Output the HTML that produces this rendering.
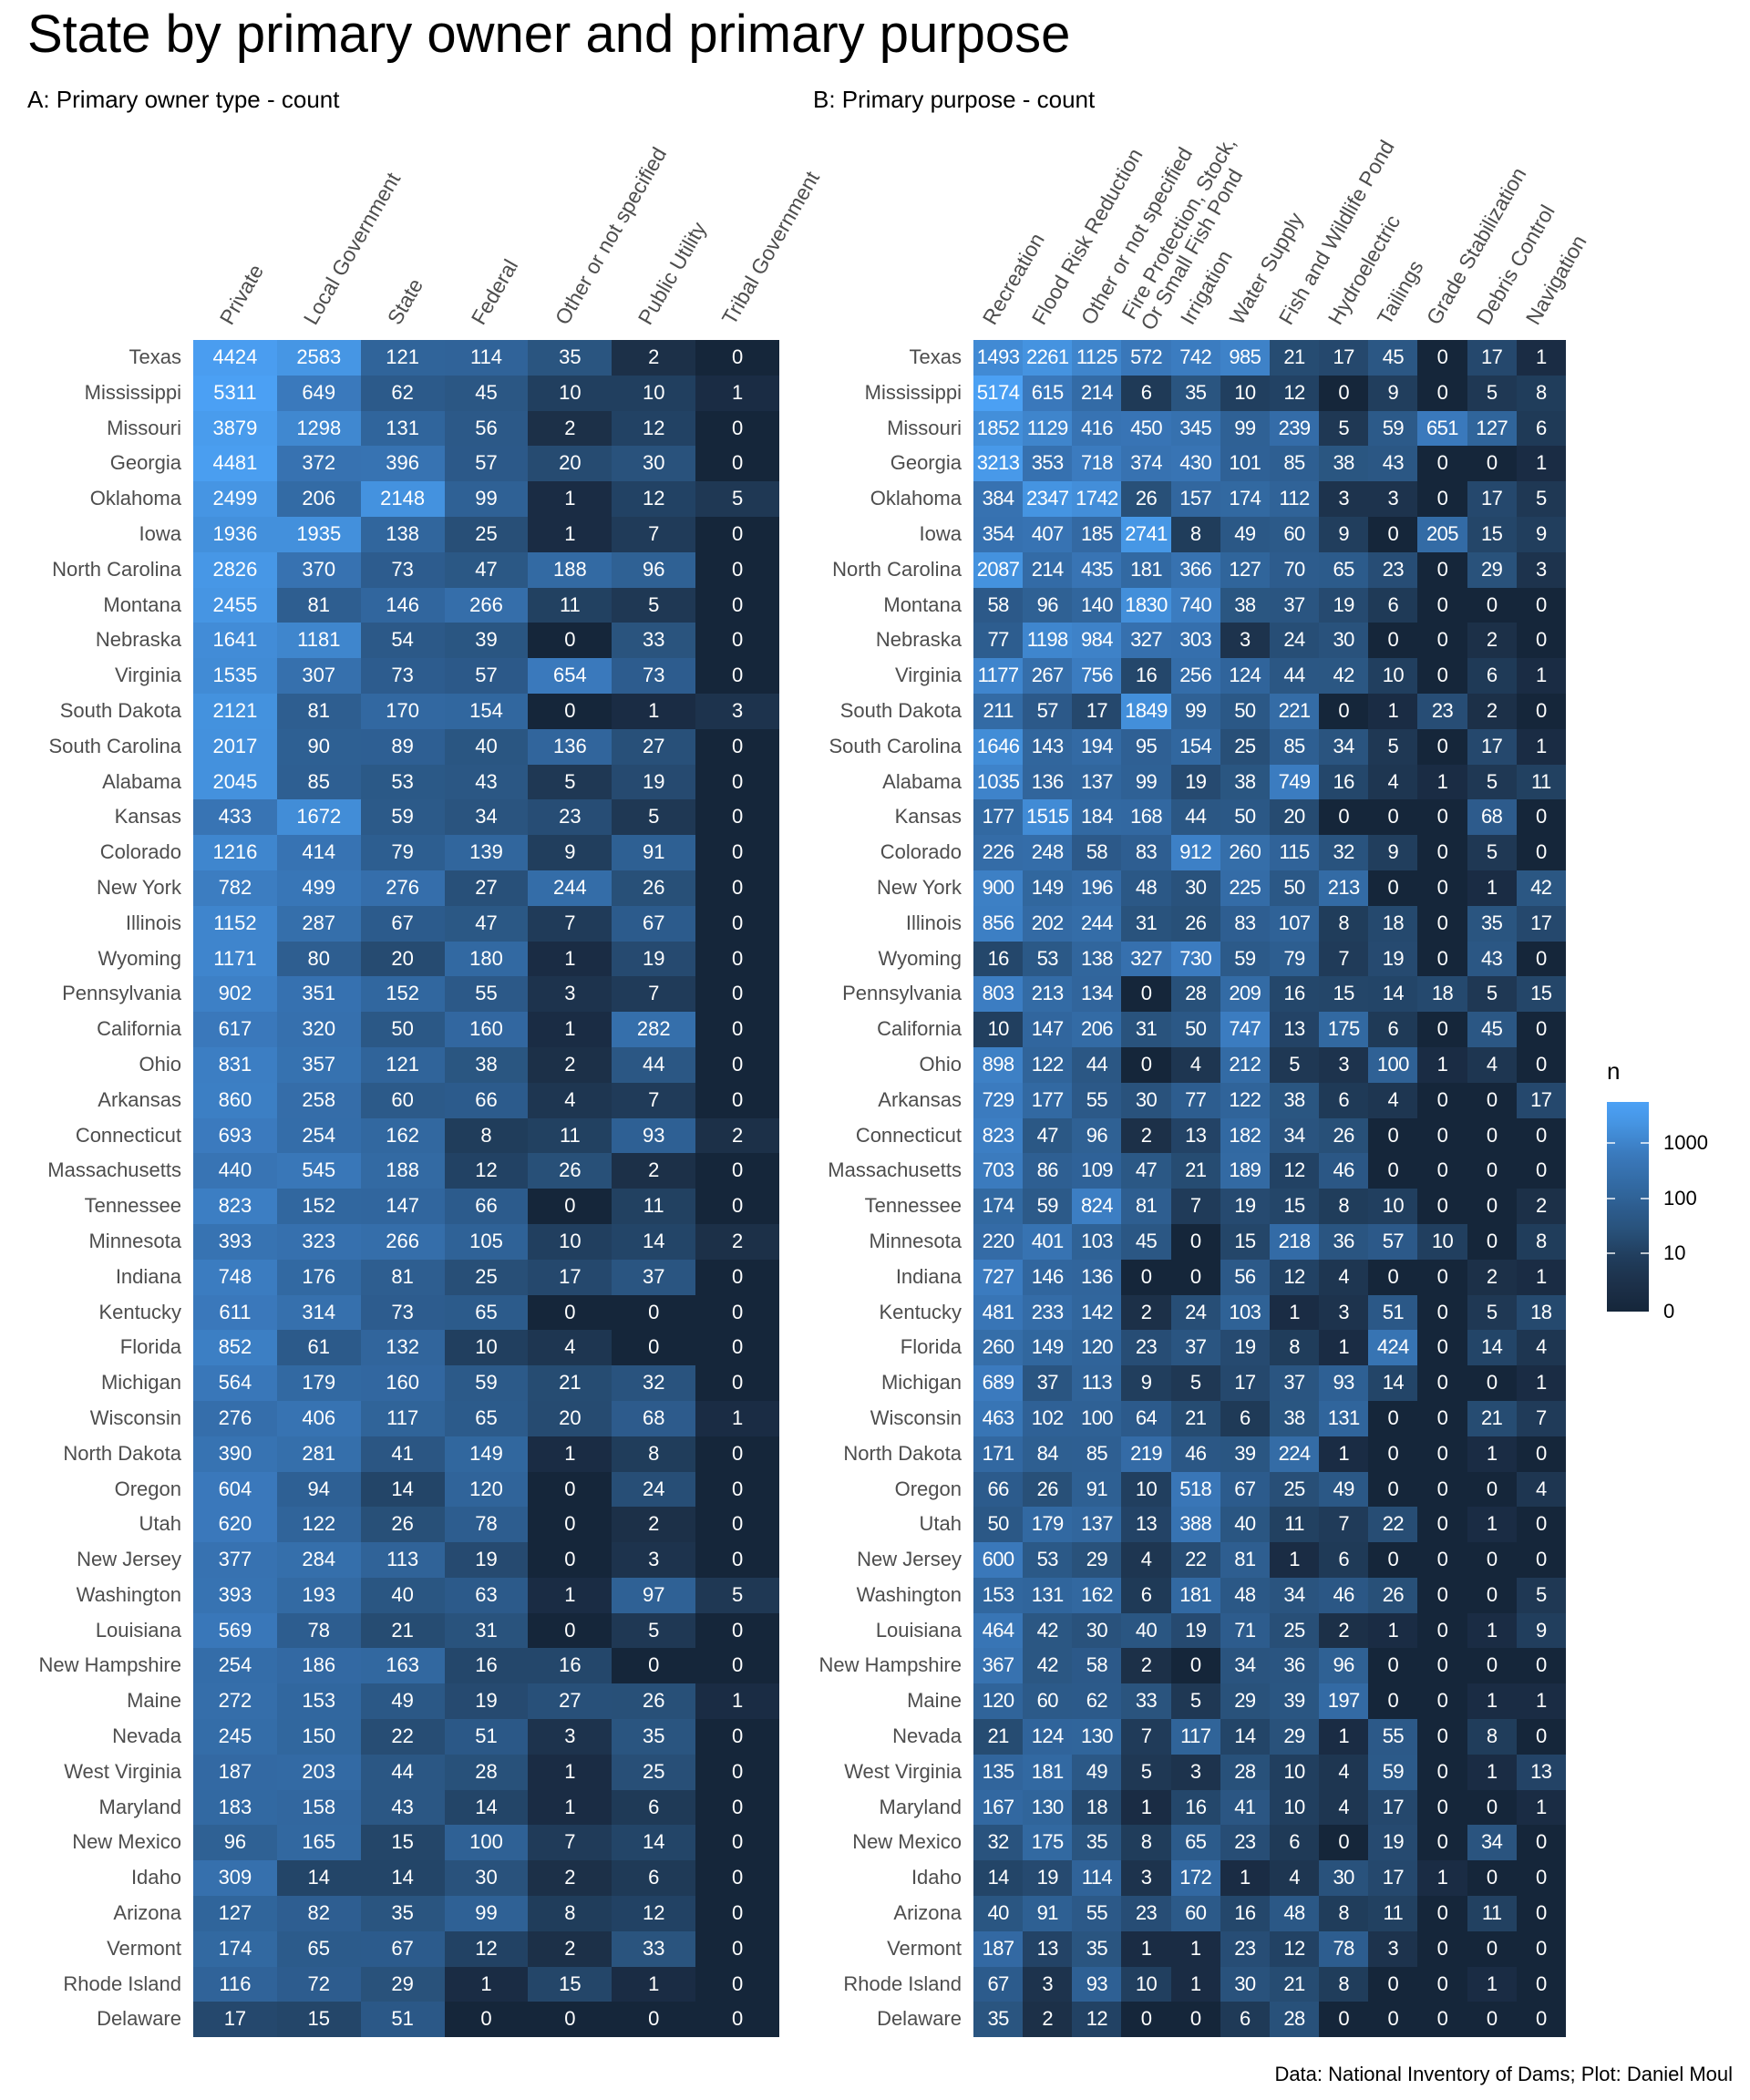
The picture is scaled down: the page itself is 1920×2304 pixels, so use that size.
<!DOCTYPE html>
<html><head><meta charset="utf-8">
<style>
html,body{margin:0;padding:0;background:#fff;}
body{width:1920px;height:2304px;position:relative;overflow:hidden;font-family:"Liberation Sans",Arial,sans-serif;}
.t{position:absolute;white-space:nowrap;}
.g{position:absolute;display:grid;grid-auto-rows:38.8px;}
.g b{font-weight:normal;color:#4d4d4d;font-size:22px;text-align:right;padding-right:13px;line-height:38.8px;white-space:nowrap;}
.g i{font-style:normal;color:#fff;font-size:22px;text-align:center;line-height:38.8px;background:#132B43;}
#A{left:0;top:373px;grid-template-columns:212px repeat(7,91.86px);}
#B{left:860px;top:373px;grid-template-columns:208px repeat(12,54.17px);}
#B i{letter-spacing:-0.6px;}
.cl{position:absolute;font-size:23px;color:#4d4d4d;white-space:pre;line-height:24px;transform-origin:0 50%;transform:translate(0,-50%) rotate(-60deg);}
</style></head><body>
<div class="t" style="left:30px;top:4px;font-size:58px;color:#000;">State by primary owner and primary purpose</div>
<div class="t" style="left:30px;top:94px;font-size:26px;color:#000;">A: Primary owner type - count</div>
<div class="t" style="left:892px;top:94px;font-size:26px;color:#000;">B: Primary purpose - count</div>

<div class="cl" style="left:247px;top:354px;">Private</div>
<div class="cl" style="left:339px;top:354px;">Local Government</div>
<div class="cl" style="left:431px;top:354px;">State</div>
<div class="cl" style="left:523px;top:354px;">Federal</div>
<div class="cl" style="left:615px;top:354px;">Other or not specified</div>
<div class="cl" style="left:706px;top:354px;">Public Utility</div>
<div class="cl" style="left:798px;top:354px;">Tribal Government</div>

<div class="cl" style="left:1084px;top:354px;">Recreation</div>
<div class="cl" style="left:1138px;top:354px;">Flood Risk Reduction</div>
<div class="cl" style="left:1192px;top:354px;">Other or not specified</div>
<div class="cl" style="left:1247px;top:354px;">Fire Protection, Stock,
Or Small Fish Pond</div>
<div class="cl" style="left:1301px;top:354px;">Irrigation</div>
<div class="cl" style="left:1355px;top:354px;">Water Supply</div>
<div class="cl" style="left:1409px;top:354px;">Fish and Wildlife Pond</div>
<div class="cl" style="left:1463px;top:354px;">Hydroelectric</div>
<div class="cl" style="left:1517px;top:354px;">Tailings</div>
<div class="cl" style="left:1571px;top:354px;">Grade Stabilization</div>
<div class="cl" style="left:1626px;top:354px;">Debris Control</div>
<div class="cl" style="left:1680px;top:354px;">Navigation</div>

<div class="g" id="A">
<b>Texas</b><i>4424</i><i>2583</i><i>121</i><i>114</i><i>35</i><i>2</i><i>0</i>
<b>Mississippi</b><i>5311</i><i>649</i><i>62</i><i>45</i><i>10</i><i>10</i><i>1</i>
<b>Missouri</b><i>3879</i><i>1298</i><i>131</i><i>56</i><i>2</i><i>12</i><i>0</i>
<b>Georgia</b><i>4481</i><i>372</i><i>396</i><i>57</i><i>20</i><i>30</i><i>0</i>
<b>Oklahoma</b><i>2499</i><i>206</i><i>2148</i><i>99</i><i>1</i><i>12</i><i>5</i>
<b>Iowa</b><i>1936</i><i>1935</i><i>138</i><i>25</i><i>1</i><i>7</i><i>0</i>
<b>North Carolina</b><i>2826</i><i>370</i><i>73</i><i>47</i><i>188</i><i>96</i><i>0</i>
<b>Montana</b><i>2455</i><i>81</i><i>146</i><i>266</i><i>11</i><i>5</i><i>0</i>
<b>Nebraska</b><i>1641</i><i>1181</i><i>54</i><i>39</i><i>0</i><i>33</i><i>0</i>
<b>Virginia</b><i>1535</i><i>307</i><i>73</i><i>57</i><i>654</i><i>73</i><i>0</i>
<b>South Dakota</b><i>2121</i><i>81</i><i>170</i><i>154</i><i>0</i><i>1</i><i>3</i>
<b>South Carolina</b><i>2017</i><i>90</i><i>89</i><i>40</i><i>136</i><i>27</i><i>0</i>
<b>Alabama</b><i>2045</i><i>85</i><i>53</i><i>43</i><i>5</i><i>19</i><i>0</i>
<b>Kansas</b><i>433</i><i>1672</i><i>59</i><i>34</i><i>23</i><i>5</i><i>0</i>
<b>Colorado</b><i>1216</i><i>414</i><i>79</i><i>139</i><i>9</i><i>91</i><i>0</i>
<b>New York</b><i>782</i><i>499</i><i>276</i><i>27</i><i>244</i><i>26</i><i>0</i>
<b>Illinois</b><i>1152</i><i>287</i><i>67</i><i>47</i><i>7</i><i>67</i><i>0</i>
<b>Wyoming</b><i>1171</i><i>80</i><i>20</i><i>180</i><i>1</i><i>19</i><i>0</i>
<b>Pennsylvania</b><i>902</i><i>351</i><i>152</i><i>55</i><i>3</i><i>7</i><i>0</i>
<b>California</b><i>617</i><i>320</i><i>50</i><i>160</i><i>1</i><i>282</i><i>0</i>
<b>Ohio</b><i>831</i><i>357</i><i>121</i><i>38</i><i>2</i><i>44</i><i>0</i>
<b>Arkansas</b><i>860</i><i>258</i><i>60</i><i>66</i><i>4</i><i>7</i><i>0</i>
<b>Connecticut</b><i>693</i><i>254</i><i>162</i><i>8</i><i>11</i><i>93</i><i>2</i>
<b>Massachusetts</b><i>440</i><i>545</i><i>188</i><i>12</i><i>26</i><i>2</i><i>0</i>
<b>Tennessee</b><i>823</i><i>152</i><i>147</i><i>66</i><i>0</i><i>11</i><i>0</i>
<b>Minnesota</b><i>393</i><i>323</i><i>266</i><i>105</i><i>10</i><i>14</i><i>2</i>
<b>Indiana</b><i>748</i><i>176</i><i>81</i><i>25</i><i>17</i><i>37</i><i>0</i>
<b>Kentucky</b><i>611</i><i>314</i><i>73</i><i>65</i><i>0</i><i>0</i><i>0</i>
<b>Florida</b><i>852</i><i>61</i><i>132</i><i>10</i><i>4</i><i>0</i><i>0</i>
<b>Michigan</b><i>564</i><i>179</i><i>160</i><i>59</i><i>21</i><i>32</i><i>0</i>
<b>Wisconsin</b><i>276</i><i>406</i><i>117</i><i>65</i><i>20</i><i>68</i><i>1</i>
<b>North Dakota</b><i>390</i><i>281</i><i>41</i><i>149</i><i>1</i><i>8</i><i>0</i>
<b>Oregon</b><i>604</i><i>94</i><i>14</i><i>120</i><i>0</i><i>24</i><i>0</i>
<b>Utah</b><i>620</i><i>122</i><i>26</i><i>78</i><i>0</i><i>2</i><i>0</i>
<b>New Jersey</b><i>377</i><i>284</i><i>113</i><i>19</i><i>0</i><i>3</i><i>0</i>
<b>Washington</b><i>393</i><i>193</i><i>40</i><i>63</i><i>1</i><i>97</i><i>5</i>
<b>Louisiana</b><i>569</i><i>78</i><i>21</i><i>31</i><i>0</i><i>5</i><i>0</i>
<b>New Hampshire</b><i>254</i><i>186</i><i>163</i><i>16</i><i>16</i><i>0</i><i>0</i>
<b>Maine</b><i>272</i><i>153</i><i>49</i><i>19</i><i>27</i><i>26</i><i>1</i>
<b>Nevada</b><i>245</i><i>150</i><i>22</i><i>51</i><i>3</i><i>35</i><i>0</i>
<b>West Virginia</b><i>187</i><i>203</i><i>44</i><i>28</i><i>1</i><i>25</i><i>0</i>
<b>Maryland</b><i>183</i><i>158</i><i>43</i><i>14</i><i>1</i><i>6</i><i>0</i>
<b>New Mexico</b><i>96</i><i>165</i><i>15</i><i>100</i><i>7</i><i>14</i><i>0</i>
<b>Idaho</b><i>309</i><i>14</i><i>14</i><i>30</i><i>2</i><i>6</i><i>0</i>
<b>Arizona</b><i>127</i><i>82</i><i>35</i><i>99</i><i>8</i><i>12</i><i>0</i>
<b>Vermont</b><i>174</i><i>65</i><i>67</i><i>12</i><i>2</i><i>33</i><i>0</i>
<b>Rhode Island</b><i>116</i><i>72</i><i>29</i><i>1</i><i>15</i><i>1</i><i>0</i>
<b>Delaware</b><i>17</i><i>15</i><i>51</i><i>0</i><i>0</i><i>0</i><i>0</i>
</div>

<div class="g" id="B">
<b>Texas</b><i>1493</i><i>2261</i><i>1125</i><i>572</i><i>742</i><i>985</i><i>21</i><i>17</i><i>45</i><i>0</i><i>17</i><i>1</i>
<b>Mississippi</b><i>5174</i><i>615</i><i>214</i><i>6</i><i>35</i><i>10</i><i>12</i><i>0</i><i>9</i><i>0</i><i>5</i><i>8</i>
<b>Missouri</b><i>1852</i><i>1129</i><i>416</i><i>450</i><i>345</i><i>99</i><i>239</i><i>5</i><i>59</i><i>651</i><i>127</i><i>6</i>
<b>Georgia</b><i>3213</i><i>353</i><i>718</i><i>374</i><i>430</i><i>101</i><i>85</i><i>38</i><i>43</i><i>0</i><i>0</i><i>1</i>
<b>Oklahoma</b><i>384</i><i>2347</i><i>1742</i><i>26</i><i>157</i><i>174</i><i>112</i><i>3</i><i>3</i><i>0</i><i>17</i><i>5</i>
<b>Iowa</b><i>354</i><i>407</i><i>185</i><i>2741</i><i>8</i><i>49</i><i>60</i><i>9</i><i>0</i><i>205</i><i>15</i><i>9</i>
<b>North Carolina</b><i>2087</i><i>214</i><i>435</i><i>181</i><i>366</i><i>127</i><i>70</i><i>65</i><i>23</i><i>0</i><i>29</i><i>3</i>
<b>Montana</b><i>58</i><i>96</i><i>140</i><i>1830</i><i>740</i><i>38</i><i>37</i><i>19</i><i>6</i><i>0</i><i>0</i><i>0</i>
<b>Nebraska</b><i>77</i><i>1198</i><i>984</i><i>327</i><i>303</i><i>3</i><i>24</i><i>30</i><i>0</i><i>0</i><i>2</i><i>0</i>
<b>Virginia</b><i>1177</i><i>267</i><i>756</i><i>16</i><i>256</i><i>124</i><i>44</i><i>42</i><i>10</i><i>0</i><i>6</i><i>1</i>
<b>South Dakota</b><i>211</i><i>57</i><i>17</i><i>1849</i><i>99</i><i>50</i><i>221</i><i>0</i><i>1</i><i>23</i><i>2</i><i>0</i>
<b>South Carolina</b><i>1646</i><i>143</i><i>194</i><i>95</i><i>154</i><i>25</i><i>85</i><i>34</i><i>5</i><i>0</i><i>17</i><i>1</i>
<b>Alabama</b><i>1035</i><i>136</i><i>137</i><i>99</i><i>19</i><i>38</i><i>749</i><i>16</i><i>4</i><i>1</i><i>5</i><i>11</i>
<b>Kansas</b><i>177</i><i>1515</i><i>184</i><i>168</i><i>44</i><i>50</i><i>20</i><i>0</i><i>0</i><i>0</i><i>68</i><i>0</i>
<b>Colorado</b><i>226</i><i>248</i><i>58</i><i>83</i><i>912</i><i>260</i><i>115</i><i>32</i><i>9</i><i>0</i><i>5</i><i>0</i>
<b>New York</b><i>900</i><i>149</i><i>196</i><i>48</i><i>30</i><i>225</i><i>50</i><i>213</i><i>0</i><i>0</i><i>1</i><i>42</i>
<b>Illinois</b><i>856</i><i>202</i><i>244</i><i>31</i><i>26</i><i>83</i><i>107</i><i>8</i><i>18</i><i>0</i><i>35</i><i>17</i>
<b>Wyoming</b><i>16</i><i>53</i><i>138</i><i>327</i><i>730</i><i>59</i><i>79</i><i>7</i><i>19</i><i>0</i><i>43</i><i>0</i>
<b>Pennsylvania</b><i>803</i><i>213</i><i>134</i><i>0</i><i>28</i><i>209</i><i>16</i><i>15</i><i>14</i><i>18</i><i>5</i><i>15</i>
<b>California</b><i>10</i><i>147</i><i>206</i><i>31</i><i>50</i><i>747</i><i>13</i><i>175</i><i>6</i><i>0</i><i>45</i><i>0</i>
<b>Ohio</b><i>898</i><i>122</i><i>44</i><i>0</i><i>4</i><i>212</i><i>5</i><i>3</i><i>100</i><i>1</i><i>4</i><i>0</i>
<b>Arkansas</b><i>729</i><i>177</i><i>55</i><i>30</i><i>77</i><i>122</i><i>38</i><i>6</i><i>4</i><i>0</i><i>0</i><i>17</i>
<b>Connecticut</b><i>823</i><i>47</i><i>96</i><i>2</i><i>13</i><i>182</i><i>34</i><i>26</i><i>0</i><i>0</i><i>0</i><i>0</i>
<b>Massachusetts</b><i>703</i><i>86</i><i>109</i><i>47</i><i>21</i><i>189</i><i>12</i><i>46</i><i>0</i><i>0</i><i>0</i><i>0</i>
<b>Tennessee</b><i>174</i><i>59</i><i>824</i><i>81</i><i>7</i><i>19</i><i>15</i><i>8</i><i>10</i><i>0</i><i>0</i><i>2</i>
<b>Minnesota</b><i>220</i><i>401</i><i>103</i><i>45</i><i>0</i><i>15</i><i>218</i><i>36</i><i>57</i><i>10</i><i>0</i><i>8</i>
<b>Indiana</b><i>727</i><i>146</i><i>136</i><i>0</i><i>0</i><i>56</i><i>12</i><i>4</i><i>0</i><i>0</i><i>2</i><i>1</i>
<b>Kentucky</b><i>481</i><i>233</i><i>142</i><i>2</i><i>24</i><i>103</i><i>1</i><i>3</i><i>51</i><i>0</i><i>5</i><i>18</i>
<b>Florida</b><i>260</i><i>149</i><i>120</i><i>23</i><i>37</i><i>19</i><i>8</i><i>1</i><i>424</i><i>0</i><i>14</i><i>4</i>
<b>Michigan</b><i>689</i><i>37</i><i>113</i><i>9</i><i>5</i><i>17</i><i>37</i><i>93</i><i>14</i><i>0</i><i>0</i><i>1</i>
<b>Wisconsin</b><i>463</i><i>102</i><i>100</i><i>64</i><i>21</i><i>6</i><i>38</i><i>131</i><i>0</i><i>0</i><i>21</i><i>7</i>
<b>North Dakota</b><i>171</i><i>84</i><i>85</i><i>219</i><i>46</i><i>39</i><i>224</i><i>1</i><i>0</i><i>0</i><i>1</i><i>0</i>
<b>Oregon</b><i>66</i><i>26</i><i>91</i><i>10</i><i>518</i><i>67</i><i>25</i><i>49</i><i>0</i><i>0</i><i>0</i><i>4</i>
<b>Utah</b><i>50</i><i>179</i><i>137</i><i>13</i><i>388</i><i>40</i><i>11</i><i>7</i><i>22</i><i>0</i><i>1</i><i>0</i>
<b>New Jersey</b><i>600</i><i>53</i><i>29</i><i>4</i><i>22</i><i>81</i><i>1</i><i>6</i><i>0</i><i>0</i><i>0</i><i>0</i>
<b>Washington</b><i>153</i><i>131</i><i>162</i><i>6</i><i>181</i><i>48</i><i>34</i><i>46</i><i>26</i><i>0</i><i>0</i><i>5</i>
<b>Louisiana</b><i>464</i><i>42</i><i>30</i><i>40</i><i>19</i><i>71</i><i>25</i><i>2</i><i>1</i><i>0</i><i>1</i><i>9</i>
<b>New Hampshire</b><i>367</i><i>42</i><i>58</i><i>2</i><i>0</i><i>34</i><i>36</i><i>96</i><i>0</i><i>0</i><i>0</i><i>0</i>
<b>Maine</b><i>120</i><i>60</i><i>62</i><i>33</i><i>5</i><i>29</i><i>39</i><i>197</i><i>0</i><i>0</i><i>1</i><i>1</i>
<b>Nevada</b><i>21</i><i>124</i><i>130</i><i>7</i><i>117</i><i>14</i><i>29</i><i>1</i><i>55</i><i>0</i><i>8</i><i>0</i>
<b>West Virginia</b><i>135</i><i>181</i><i>49</i><i>5</i><i>3</i><i>28</i><i>10</i><i>4</i><i>59</i><i>0</i><i>1</i><i>13</i>
<b>Maryland</b><i>167</i><i>130</i><i>18</i><i>1</i><i>16</i><i>41</i><i>10</i><i>4</i><i>17</i><i>0</i><i>0</i><i>1</i>
<b>New Mexico</b><i>32</i><i>175</i><i>35</i><i>8</i><i>65</i><i>23</i><i>6</i><i>0</i><i>19</i><i>0</i><i>34</i><i>0</i>
<b>Idaho</b><i>14</i><i>19</i><i>114</i><i>3</i><i>172</i><i>1</i><i>4</i><i>30</i><i>17</i><i>1</i><i>0</i><i>0</i>
<b>Arizona</b><i>40</i><i>91</i><i>55</i><i>23</i><i>60</i><i>16</i><i>48</i><i>8</i><i>11</i><i>0</i><i>11</i><i>0</i>
<b>Vermont</b><i>187</i><i>13</i><i>35</i><i>1</i><i>1</i><i>23</i><i>12</i><i>78</i><i>3</i><i>0</i><i>0</i><i>0</i>
<b>Rhode Island</b><i>67</i><i>3</i><i>93</i><i>10</i><i>1</i><i>30</i><i>21</i><i>8</i><i>0</i><i>0</i><i>1</i><i>0</i>
<b>Delaware</b><i>35</i><i>2</i><i>12</i><i>0</i><i>0</i><i>6</i><i>28</i><i>0</i><i>0</i><i>0</i><i>0</i><i>0</i>
</div>

<div class="t" style="left:1763px;top:1160px;font-size:26px;color:#000;">n</div>
<div id="bar" style="position:absolute;left:1763px;top:1209px;width:46px;height:230px;background:linear-gradient(to top,#132B43,#56B1F7);"></div>
<div style="position:absolute;left:1763px;top:1253px;width:9px;height:2px;background:#fff;opacity:.7"></div>
<div style="position:absolute;left:1800px;top:1253px;width:9px;height:2px;background:#fff;opacity:.7"></div>
<div style="position:absolute;left:1763px;top:1314px;width:9px;height:2px;background:#fff;opacity:.7"></div>
<div style="position:absolute;left:1800px;top:1314px;width:9px;height:2px;background:#fff;opacity:.7"></div>
<div style="position:absolute;left:1763px;top:1374px;width:9px;height:2px;background:#fff;opacity:.7"></div>
<div style="position:absolute;left:1800px;top:1374px;width:9px;height:2px;background:#fff;opacity:.7"></div>
<div class="t" style="left:1825px;top:1241px;font-size:22px;color:#000;">1000</div>
<div class="t" style="left:1825px;top:1302px;font-size:22px;color:#000;">100</div>
<div class="t" style="left:1825px;top:1362px;font-size:22px;color:#000;">10</div>
<div class="t" style="left:1825px;top:1426px;font-size:22px;color:#000;">0</div>

<div class="t" style="right:19px;top:2263px;font-size:22px;color:#000;">Data: National Inventory of Dams; Plot: Daniel Moul</div>

<script>
(function(){
var A=[[0,'#15263a'],[0.301,'#1a2c44'],[0.477,'#1c3048'],[1.041,'#213f5f'],[1.556,'#2a5580'],[1.799,'#2c5a8a'],[2.086,'#30649a'],[2.813,'#3a79bc'],[3.412,'#4696e4'],[3.725,'#4ba0f4'],[3.8,'#4ca2f6']];
function hx(h){return [parseInt(h.substr(1,2),16),parseInt(h.substr(3,2),16),parseInt(h.substr(5,2),16)];}
function col(x){
 if(x<=A[0][0])return A[0][1];
 for(var i=1;i<A.length;i++){if(x<=A[i][0]){var a=A[i-1],b=A[i],t=(x-a[0])/(b[0]-a[0]),c1=hx(a[1]),c2=hx(b[1]);
  return 'rgb('+Math.round(c1[0]+(c2[0]-c1[0])*t)+','+Math.round(c1[1]+(c2[1]-c1[1])*t)+','+Math.round(c1[2]+(c2[2]-c1[2])*t)+')';}}
 return A[A.length-1][1];}
var cells=document.querySelectorAll('.g i');
for(var k=0;k<cells.length;k++){var n=parseFloat(cells[k].textContent);cells[k].style.background=col(Math.log10(n+1));}
var stops=[];for(var j=0;j<=20;j++){var v=j/20*3.77;stops.push(col(v)+' '+(j*5)+'%');}
document.getElementById('bar').style.background='linear-gradient(to top,'+stops.join(',')+')';
})();
</script>
</body></html>
